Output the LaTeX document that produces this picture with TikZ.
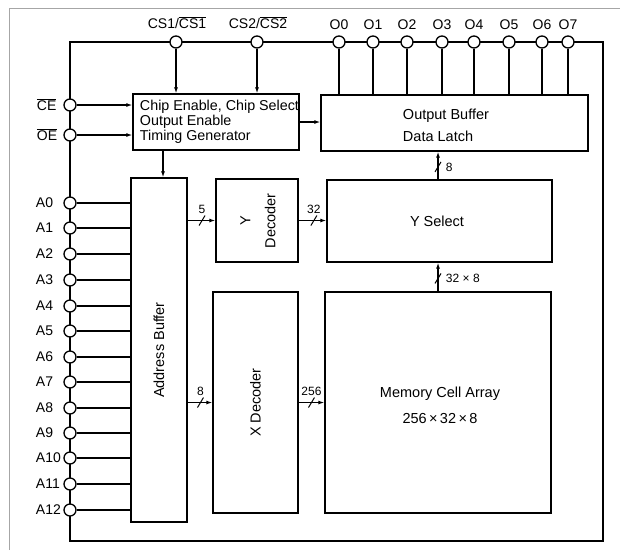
\documentclass[tikz,border=0pt]{standalone}
\usepackage{fontspec}
\setmainfont{Liberation Sans}
\usetikzlibrary{arrows.meta,calc}
\begin{document}
\begin{tikzpicture}[x=1pt,y=-1pt, line width=1.3pt,
  box/.style={draw, rectangle, inner sep=0pt},
  boxtext/.style={font=\fontsize{14.5}{16}\selectfont},
  pin/.style={draw, circle, fill=white, minimum size=12pt, inner sep=0pt, line width=1.3pt},
  pinlabel/.style={font=\fontsize{14}{15}\selectfont},
  buslabel/.style={font=\fontsize{12}{13}\selectfont},
  arr/.style={-{Latex[length=6pt,width=4pt]}},
  framel/.style={gray!70, line width=0.6pt}]
\useasboundingbox (0,0) rectangle (620,550);
% scan frame
\draw[framel] (9,550) -- (9,8) -- (620,8);
% chip outline
\draw (70,541) -- (70,42) -- (603,42) -- (603,541) -- cycle;

% blocks
\node[box, minimum width=166pt, minimum height=56pt] (ce) at (216,122) {};
\node[boxtext, anchor=west, align=left, font=\fontsize{14.3}{15}\selectfont] (cet) at (136,122) {Chip Enable, Chip Select\\Output Enable\\Timing Generator};
\node[box, minimum width=267pt, minimum height=56pt] (ob) at (454.5,123) {};
\node[boxtext, anchor=west, align=left, font=\fontsize{14.5}{22}\selectfont] (obt) at (399,125) {Output Buffer\\Data Latch};
\node[box, minimum width=56pt, minimum height=344pt] (ab) at (159,350) {};
\node[boxtext, rotate=90] (abt) at (ab.center) {Address Buffer};
\node[box, minimum width=82pt, minimum height=83pt] (yd) at (257,220.5) {};
\node[boxtext, rotate=90, align=center, font=\fontsize{14.5}{25}\selectfont] (ydt) at (258,221) {Y\\Decoder};
\node[box, minimum width=85pt, minimum height=221pt] (xd) at (255.5,402.5) {};
\node[boxtext, rotate=90] (xdt) at (xd.center) {X Decoder};
\node[box, minimum width=225pt, minimum height=82pt] (ys) at (439.5,221) {};
\node[boxtext] (yst) at (437,221) {Y Select};
\node[box, minimum width=226pt, minimum height=221pt] (mc) at (438,402.5) {};
\node[boxtext, align=center, font=\fontsize{14.5}{26}\selectfont] (mct) at (440,405) {Memory Cell Array\\256\,×\,32\,×\,8};

% pins
\node[pin] (cs1) at (176,42) {};
\node[pin] (cs2) at (257,42) {};
\node[pinlabel] (lcs1) at (177,23) {CS1/$\overline{\mbox{CS1}}$};
\node[pinlabel] (lcs2) at (258,23) {CS2/$\overline{\mbox{CS2}}$};
\foreach \i/\x in {0/339,1/373,2/407,3/442,4/474,5/509,6/542,7/568}{
  \node[pin] (o\i) at (\x,42) {};
  \node[pinlabel] (lo\i) at (\x,25) {O\i};
  \draw (o\i) -- (o\i |- ob.north);
}
\node[pin] (cep) at (70,105) {};
\node[pin] (oep) at (70,135) {};
\node[pinlabel, anchor=west] (lce) at (33,105) {$\overline{\mbox{CE}}$};
\node[pinlabel, anchor=west] (loe) at (33,135) {$\overline{\mbox{OE}}$};
\foreach \i/\y in {0/203,1/228,2/254,3/280,4/306,5/331,6/357,7/382,8/408,9/433,10/458,11/484,12/510}{
  \node[pin] (a\i) at (70,\y) {};
  \node[pinlabel, anchor=west] (la\i) at (32,\y) {A\i};
  \draw (a\i) -- (a\i -| ab.west);
}

% control arrows
\draw[arr] (cs1) -- (cs1 |- ce.north);
\draw[arr] (cs2) -- (cs2 |- ce.north);
\draw[arr] (cep) -- (cep -| ce.west);
\draw[arr] (oep) -- (oep -| ce.west);
\draw[arr] (ce.east) -- (ce.east -| ob.west);
\coordinate (cedown) at (163,150);
\draw[arr] (cedown) -- (cedown |- ab.north);

% buses
\draw[arr] (ab.east |- yd.west) -- coordinate[pos=0.52] (b5) (yd.west);
\draw[arr] (ab.east |- xd.west) -- coordinate[pos=0.52] (b8a) (xd.west);
\draw[arr] (yd.east) -- coordinate[pos=0.55] (b32) (yd.east -| ys.west);
\draw[arr] (xd.east) -- coordinate[pos=0.5] (b256) (xd.east -| mc.west);
\draw[arr] (mc.north) -- coordinate[pos=0.45] (b328) (mc.north |- ys.south);
\draw[arr] (mc.north |- ys.north) -- coordinate[pos=0.45] (b8) (mc.north |- ob.south);
\foreach \c in {b5,b8a,b32,b256,b328,b8}{
  \draw[line width=1pt] (\c) +(-3,5) -- +(3,-5);
}
\node[buslabel, above=3pt] (l5) at (b5) {5};
\node[buslabel, above=3pt] (l8a) at (b8a) {8};
\node[buslabel, above=3pt] (l32) at (b32) {32};
\node[buslabel, above=3pt] (l256) at (b256) {256};
\node[buslabel, right=4pt] (l328) at (b328) {32 × 8};
\node[buslabel, right=4pt] (l8) at (b8) {8};
\end{tikzpicture}
\end{document}
